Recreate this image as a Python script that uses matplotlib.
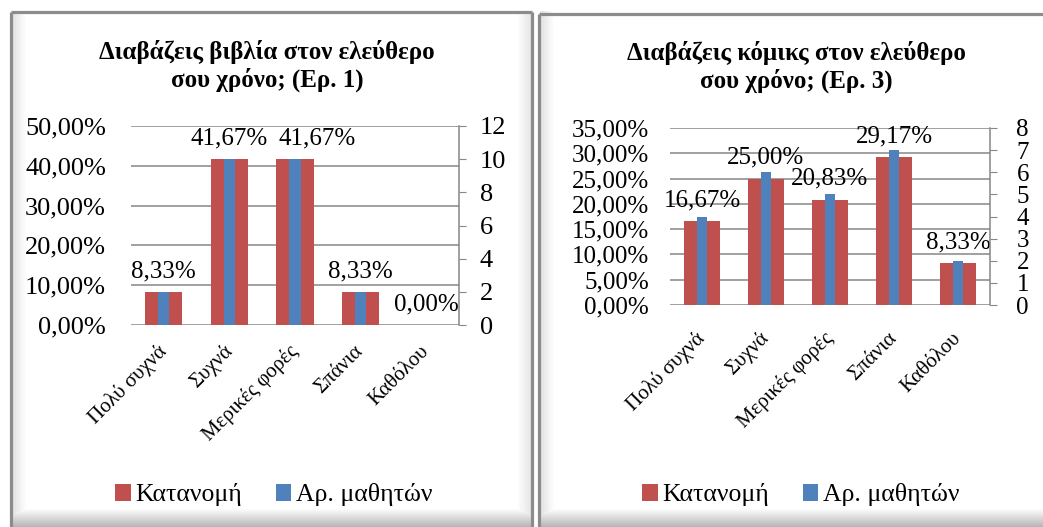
import numpy as np
import matplotlib
matplotlib.use("Agg")
import matplotlib.pyplot as plt
from matplotlib.patches import Patch
from matplotlib.ticker import MultipleLocator, FuncFormatter

plt.rcParams['font.family'] = ['Liberation Serif', 'DejaVu Serif']

# data
categories = ['Πολύ συχνά', 'Συχνά', 'Μερικές φορές', 'Σπάνια', 'Καθόλου']
books_pct = [8.33, 41.67, 41.67, 8.33, 0.00]
books_cnt = [2, 10, 10, 2, 0]
comics_pct = [16.67, 25.00, 20.83, 29.17, 8.33]
comics_cnt = [4, 6, 5, 7, 2]
titles = ['Διαβάζεις βιβλία στον ελεύθερο\nσου χρόνο; (Ερ. 1)',
          'Διαβάζεις κόμικς στον ελεύθερο\nσου χρόνο; (Ερ. 3)']
series_names = ['Κατανομή', 'Αρ. μαθητών']

RED = '#C0504D'
BLUE = '#4F81BD'
GRID = '#868686'

W, H = 1043, 527
fig = plt.figure(figsize=(W / 100, H / 100), dpi=100)

# background with panel frames and soft shading
bg = fig.add_axes([0, 0, 1, 1], zorder=-10)
img = np.ones((H, W))
xx = np.arange(W)
yy = np.arange(H)
for x0 in (12, 540):
    d = xx - x0
    m = (d >= 0) & (d < 14)
    img[:, m] = np.minimum(img[:, m], 0.88 + 0.12 * (d[m] / 14.0))
d = 530 - xx
m = (d >= 0) & (d < 14)
img[:, m] = np.minimum(img[:, m], 0.9 + 0.1 * (d[m] / 14.0))
dy = yy - 508
my = dy > 0
img[my, :] = np.minimum(img[my, :], (1 - 0.3 * (dy[my] / 19.0))[:, None])
img[:11, :] = 1
img[:, :10] = 1
img[:, 532:538] = 1
bg.imshow(img, cmap='gray', vmin=0, vmax=1, extent=(0, W, H, 0), aspect='auto')
bg.set_xlim(0, W)
bg.set_ylim(H, 0)
bg.axis('off')
for xs, ys in [([11, 11], [H, 11.5]), ([11, 531.5], [11.5, 11.5]), ([531.5, 531.5], [11.5, H]),
               ([539, 539], [H, 13.5]), ([539, W], [13.5, 13.5])]:
    bg.plot(xs, ys, color='#8c8c8c', lw=2.3, solid_capstyle='butt')


def pct_fmt(v, _):
    return f'{v:.2f}'.replace('.', ',') + '%'


def draw(rect, pct, cnt, pmax, pstep, cmax, cstep, fs, lpad, rpad, xpad):
    ax = fig.add_axes(rect)
    x = np.arange(len(categories))
    ax.bar(x, pct, width=0.57, color=RED, zorder=2)
    ax.set_xlim(-0.5, len(categories) - 0.5)
    ax.set_ylim(0, pmax)
    ax.yaxis.set_major_locator(MultipleLocator(pstep))
    ax.yaxis.set_major_formatter(FuncFormatter(pct_fmt))
    ax.grid(axis='y', color=GRID, lw=1.1)
    ax.set_axisbelow(True)
    for s in ['top', 'left', 'right', 'bottom']:
        ax.spines[s].set_visible(False)
    ax.tick_params(axis='y', length=0, labelsize=fs, pad=lpad)
    ax.set_xticks(x)
    ax.set_xticklabels(categories, rotation=45, ha='right', va='center',
                       rotation_mode='anchor', fontsize=15)
    ax.tick_params(axis='x', length=0, pad=xpad)

    # value labels, nudged sideways when they collide (as Excel does)
    labels = []
    for xi, v in zip(x, pct):
        t = ax.annotate(pct_fmt(v, None), (xi, v), xytext=(0, 7), textcoords='offset points',
                        ha='center', va='bottom', fontsize=18)
        labels.append(t)
    r = fig.canvas.get_renderer()
    for prev, cur in zip(labels, labels[1:]):
        a = prev.get_window_extent(r)
        b = cur.get_window_extent(r)
        vert = min(a.y1, b.y1) - max(a.y0, b.y0)
        if a.x1 + 8 > b.x0 and vert > 0.5 * a.height:
            shift = (a.x1 + 10 - b.x0) * 72 / fig.dpi
            cur.xyann = (cur.xyann[0] + shift, cur.xyann[1])

    ax2 = ax.twinx()
    ax2.bar(x, cnt, width=0.17, color=BLUE, zorder=3)
    ax2.set_ylim(0, cmax)
    ax2.yaxis.set_major_locator(MultipleLocator(cstep))
    for s in ['top', 'left', 'bottom']:
        ax2.spines[s].set_visible(False)
    ax2.spines['right'].set_color(GRID)
    ax2.spines['right'].set_linewidth(1.1)
    ax2.tick_params(axis='y', direction='out', length=5, color=GRID, labelsize=fs, pad=rpad)
    return ax


draw([131 / W, 1 - 325 / H, 328 / W, 199 / H], books_pct, books_cnt, 50, 10, 12, 2,
     19, 18, 10, 17)
draw([670 / W, 1 - 305 / H, 320 / W, 177 / H], comics_pct, comics_cnt, 35, 5, 8, 1,
     18, 15, 14, 22)

fig.text(267 / W, 1 - 66 / H, titles[0], ha='center', va='center', fontsize=18,
         fontweight='bold', linespacing=1.2)
fig.text(796 / W, 1 - 67 / H, titles[1], ha='center', va='center', fontsize=18,
         fontweight='bold', linespacing=1.2)

handles = [Patch(facecolor=RED), Patch(facecolor=BLUE)]
for cx in (274, 801):
    fig.legend(handles, series_names, loc='center', bbox_to_anchor=(cx / W, 1 - 495 / H),
               ncol=2, frameon=False, fontsize=18.5, handlelength=0.6, handleheight=0.6,
               handletextpad=0.2, columnspacing=1.3)

fig.savefig('out.png', dpi=100)
